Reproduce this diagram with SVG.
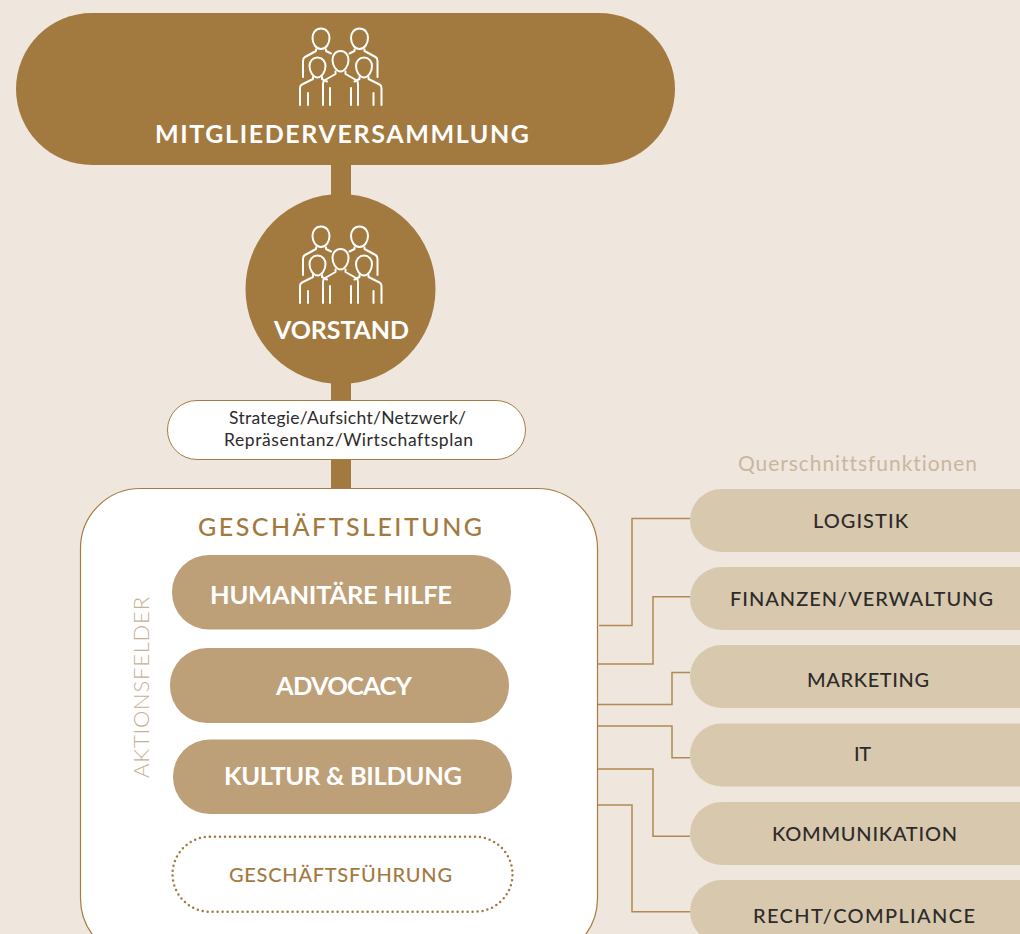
<svg xmlns="http://www.w3.org/2000/svg" xmlns:xlink="http://www.w3.org/1999/xlink" width="1020" height="934" viewBox="0 0 1020 934">
<style>
text{font-family:"Lato","Noto Sans","Liberation Sans",sans-serif;text-anchor:middle;font-variant-ligatures:none}
.w{fill:#fff;font-weight:700}
.side{fill:#d8c9ae}
.act{fill:#bd9f78}
.sl{fill:#2e2b2b;font-size:20px;font-weight:500}
.conn{fill:none;stroke:#b08a52;stroke-width:1.5}
.ic{fill:none;stroke:#fff;stroke-width:2;stroke-linecap:round;stroke-linejoin:round}
</style>
<defs>
<g id="people" class="ic">
<path d="M321 28.500C315.500 28.500 312.500 33 312.500 38C312.500 43.500 316 49 321 49C326 49 329.500 43.500 329.500 38C329.500 33 326.500 28.500 321 28.500Z"/>
<path d="M359.500 28.500C354 28.500 351 33 351 38C351 43.500 354.500 49 359.500 49C364.500 49 368 43.500 368 38C368 33 365 28.500 359.500 28.500Z"/>
<path d="M340.500 51C335.500 51 332.500 55 332.500 60C332.500 65.500 336 71.500 340.500 71.500C345 71.500 348.500 65.500 348.500 60C348.500 55 345.500 51 340.500 51Z"/>
<path d="M317.500 57.500C312.500 57.500 309.500 61.500 309.500 66C309.500 71.500 313 77.500 317.500 77.500C322 77.500 325.500 71.500 325.500 66C325.500 61.500 322.500 57.500 317.500 57.500Z"/>
<path d="M364 57.500C359 57.500 356 61.500 356 66C356 71.500 359.500 77.500 364 77.500C368.500 77.500 372 71.500 372 66C372 61.500 369 57.500 364 57.500Z"/>
<path d="M316 49.500V51L305 57Q303 58 303 61V77M326 49.500V51L331 53.500"/>
<path d="M364.500 49.500V51L375.500 57Q377.500 58 377.500 61V77M354.500 49.500V51L349.500 53.500"/>
<path d="M335.500 71.500V74L325 80Q323 81 323 84V105M330 88V105M345.500 71.500V74L356 80Q358 81 358 84V105M351 88V105"/>
<path d="M313 77V79L302 84.500Q300 85.500 300 88V105M308 93V105M322 77V79L327 81.500"/>
<path d="M368.500 77V79L379.500 84.500Q381.500 85.500 381.500 88V105M373.500 93V105M359.500 77V79L354.500 81.500"/>
</g>
</defs>
<rect width="1020" height="934" fill="#efe6de"/>
<g id="connectors">
<rect x="331" y="160" width="20" height="335" fill="#a27a3f"/>
<path class="conn" d="M599 625.500H632V518.500H690"/>
<path class="conn" d="M597 664H653V596.700H690"/>
<path class="conn" d="M597 704.500H672V672.500H690"/>
<path class="conn" d="M597 726H672V757.700H690"/>
<path class="conn" d="M597 769H653V836.300H690"/>
<path class="conn" d="M597 805H632V911.700H690"/>
</g>
<g id="mitgliederversammlung">
<rect x="16" y="13" width="659" height="152" rx="76" fill="#a27a3f"/>
<use xlink:href="#people" href="#people"/>
<text class="w" x="342" y="143" font-size="25" textLength="374">MITGLIEDERVERSAMMLUNG</text>
</g>
<g id="vorstand">
<circle cx="340.500" cy="289" r="95" fill="#a27a3f"/>
<use xlink:href="#people" href="#people" y="198"/>
<text class="w" x="341.500" y="338.500" font-size="25" textLength="135">VORSTAND</text>
</g>
<g id="strategie">
<rect x="167.500" y="400.500" width="358" height="59" rx="29.500" fill="#fff" stroke="#a67c3f" stroke-width="1"/>
<text x="347.500" y="424" font-size="17.500" fill="#2e2b2b" textLength="237">Strategie/Aufsicht/Netzwerk/</text>
<text x="348.500" y="446" font-size="17.500" fill="#2e2b2b" textLength="249">Repräsentanz/Wirtschaftsplan</text>
</g>
<g id="geschaeftsleitung">
<rect x="80.500" y="488.500" width="517" height="470" rx="60" fill="#fff" stroke="#a67c3f" stroke-width="1.200"/>
<text x="340" y="536" font-size="25" textLength="284" fill="#a27a3f" font-weight="500">GESCHÄFTSLEITUNG</text>
<text x="0" y="0" transform="translate(149 687.500) rotate(-90)" font-size="22" textLength="181" font-weight="300" fill="#c4b196">AKTIONSFELDER</text>
</g>
<g id="humanitaere-hilfe">
<rect class="act" x="172" y="555" width="339" height="74.500" rx="37"/>
<text class="w" x="331" y="603.500" font-size="25.500" textLength="242">HUMANITÄRE HILFE</text>
</g>
<g id="advocacy">
<rect class="act" x="170" y="648" width="339" height="75" rx="37"/>
<text class="w" x="344" y="695" font-size="25.500" textLength="136">ADVOCACY</text>
</g>
<g id="kultur-bildung">
<rect class="act" x="173" y="739.500" width="339" height="74.500" rx="37"/>
<text class="w" x="343" y="785" font-size="25.500" textLength="238">KULTUR &amp; BILDUNG</text>
</g>
<g id="geschaeftsfuehrung">
<rect x="172.500" y="836.700" width="340" height="75" rx="37.500" fill="#fff" stroke="#a27a3f" stroke-width="2.500" stroke-linecap="round" stroke-dasharray="0 5"/>
<text x="340.500" y="882" font-size="20" textLength="223" fill="#a27a3f" font-weight="500">GESCHÄFTSFÜHRUNG</text>
</g>
<text x="857.500" y="471" font-size="21" textLength="239" fill="#c9b79d">Querschnittsfunktionen</text>
<g id="logistik"><rect class="side" x="690" y="489" width="380" height="63" rx="31.500"/><text class="sl" x="860.500" y="527.500" textLength="95">LOGISTIK</text></g>
<g id="finanzen"><rect class="side" x="690" y="567" width="380" height="63" rx="31.500"/><text class="sl" x="861.500" y="605.500" textLength="263">FINANZEN/VERWALTUNG</text></g>
<g id="marketing"><rect class="side" x="690" y="645" width="380" height="63" rx="31.500"/><text class="sl" x="868" y="686.500" textLength="122">MARKETING</text></g>
<g id="it"><rect class="side" x="690" y="723.500" width="380" height="63" rx="31.500"/><text class="sl" x="862.500" y="760.500" textLength="17">IT</text></g>
<g id="kommunikation"><rect class="side" x="690" y="802" width="380" height="63" rx="31.500"/><text class="sl" x="864.500" y="841" textLength="185">KOMMUNIKATION</text></g>
<g id="recht"><rect class="side" x="690" y="880" width="380" height="63" rx="31.500"/><text class="sl" x="864" y="922.500" textLength="222">RECHT/COMPLIANCE</text></g>
</svg>
